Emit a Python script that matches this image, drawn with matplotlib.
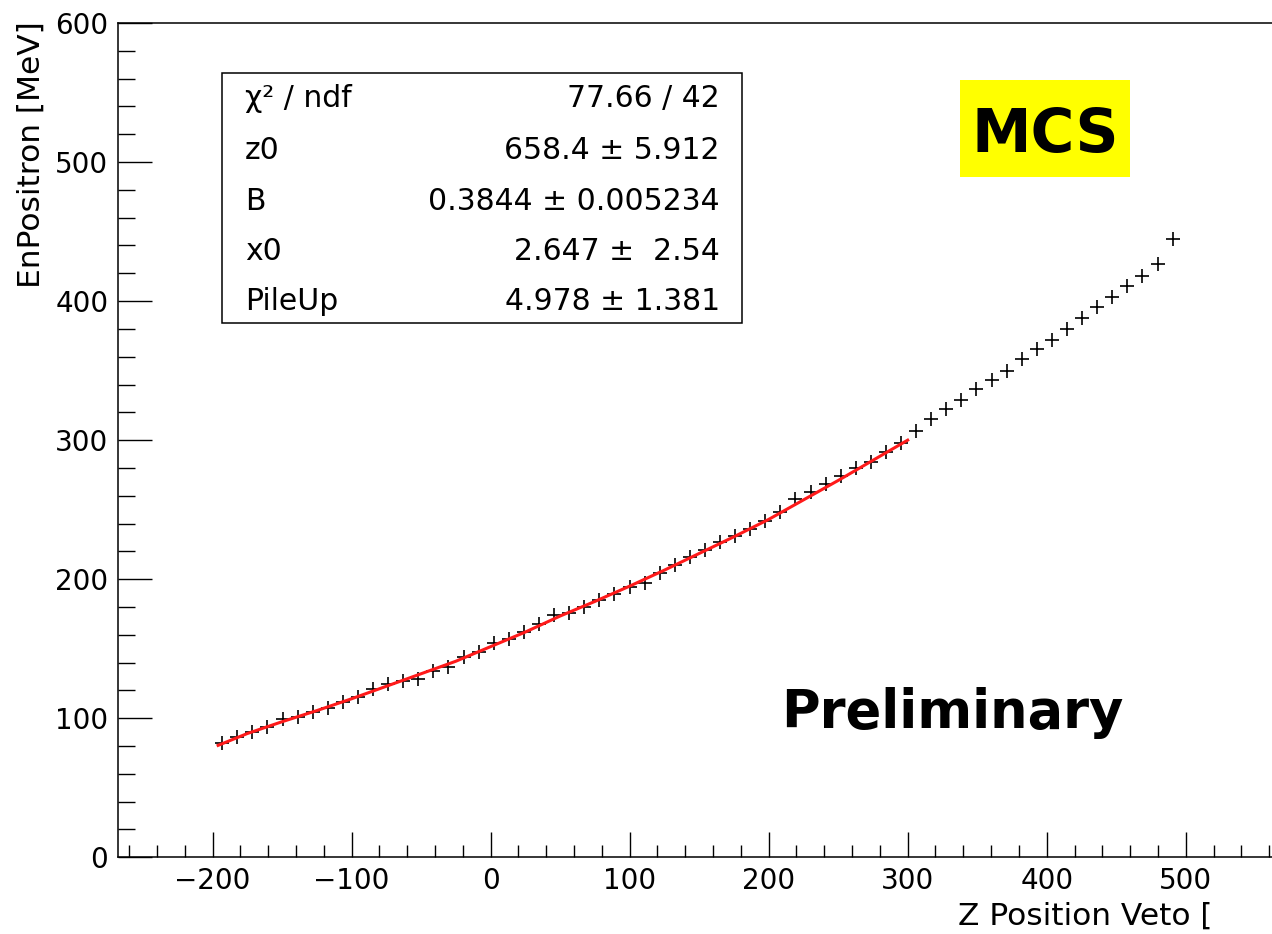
import numpy as np
import matplotlib
matplotlib.use("Agg")
import matplotlib.pyplot as plt
from matplotlib.ticker import MultipleLocator
from matplotlib.patches import Rectangle

plt.rcParams['font.family'] = ['DejaVu Sans']

# data points (profile)
zpos = [-193.0, -182.2, -171.3, -160.5, -149.6, -138.8, -127.9, -117.1, -106.2, -95.4,
        -84.5, -73.7, -62.8, -51.9, -41.1, -30.3, -19.4, -8.5, 2.3, 13.2,
        24.0, 34.9, 45.7, 56.6, 67.4, 78.3, 89.1, 100.0, 110.8, 121.7,
        132.5, 143.4, 154.2, 165.1, 175.9, 186.8, 197.6, 208.5, 219.3, 230.2,
        241.0, 251.9, 262.7, 273.6, 284.4, 295.3, 306.1, 317.0, 327.8, 338.7,
        349.5, 360.4, 371.2, 382.1, 392.9, 403.8, 414.6, 425.5, 436.3, 447.2,
        458.0, 468.9, 479.7, 490.6]
energy = [82.0, 86.8, 90.4, 94.0, 99.3, 100.7, 104.7, 107.2, 111.9, 115.5,
          120.9, 124.7, 126.6, 128.5, 134.2, 137.1, 143.9, 147.9, 154.0, 157.1,
          162.0, 167.5, 174.3, 176.0, 180.3, 185.1, 189.4, 194.7, 197.1, 204.7,
          210.3, 216.3, 221.1, 227.1, 231.2, 236.0, 241.9, 248.6, 257.6, 263.0,
          268.6, 274.3, 279.9, 284.6, 291.8, 297.8, 306.9, 314.9, 322.3, 329.0,
          336.7, 343.4, 350.0, 358.3, 365.5, 372.2, 379.9, 387.5, 395.7, 402.6,
          411.2, 418.2, 426.6, 444.6]

# fit curve
fit_z = [-196, -175, -150, -125, -100, -75, -50, -25, 0, 25, 50,
         75, 100, 125, 150, 175, 200, 225, 250, 275, 300]
fit_e = [80.5, 89.0, 97.5, 105.5, 114.0, 123.0, 132.0, 141.0, 151.5, 162.0, 173.5,
         184.0, 195.0, 206.5, 218.5, 230.5, 243.0, 257.0, 271.0, 285.5, 300.0]

stat_names = ['\u03c7\u00b2 / ndf', 'z0', 'B', 'x0', 'PileUp']
stat_values = ['77.66 / 42', '658.4 \u00b1 5.912', '0.3844 \u00b1 0.005234',
               '2.647 \u00b1  2.54', '4.978 \u00b1 1.381']

W, H = 1272, 934
fig = plt.figure(figsize=(W / 100, H / 100), dpi=100)
ax = fig.add_axes([118 / W, (H - 857.3) / H, (1290 - 118) / W, (857.3 - 23) / H])

ax.plot(zpos, energy, linestyle='none', marker='+', markersize=10,
        markeredgewidth=1.2, color='black', zorder=2)
ax.plot(fit_z, fit_e, color='#ff1a1a', linewidth=2.2, zorder=3)

ax.set_xlim(-268, 575)
ax.set_ylim(0, 600)
ax.xaxis.set_major_locator(MultipleLocator(100))
ax.xaxis.set_minor_locator(MultipleLocator(20))
ax.yaxis.set_major_locator(MultipleLocator(100))
ax.yaxis.set_minor_locator(MultipleLocator(20))
ax.tick_params(which='both', direction='in', top=False, right=False,
               labelsize=20, width=1.0, pad=7)
ax.tick_params(axis='y', which='major', length=24.5)
ax.tick_params(axis='y', which='minor', length=12.3)
ax.tick_params(axis='x', which='major', length=18)
ax.tick_params(axis='x', which='minor', length=9)
for s in ax.spines.values():
    s.set_linewidth(1.1)

# axis titles (x title is cut after the bracket in the original)
fig.text(958 / W, (H - 925) / H, 'Z Position Veto [', fontsize=22.5,
         ha='left', va='baseline')
fig.text(31 / W, (H - 21) / H, 'EnPositron [MeV]', fontsize=22.5,
         rotation=90, ha='center', va='top')

# stats box
box = Rectangle((222 / W, (H - 323) / H), (742 - 222) / W, (323 - 73) / H,
                transform=fig.transFigure, facecolor='white', edgecolor='black',
                linewidth=1.1, zorder=5)
fig.patches.append(box)
baselines = [107, 159, 210, 260, 310]
for name, val, yb in zip(stat_names, stat_values, baselines):
    fig.text(245 / W, (H - yb) / H, name, fontsize=21.5, ha='left', va='baseline', zorder=6)
    fig.text(720 / W, (H - yb) / H, val, fontsize=21.5, ha='right', va='baseline', zorder=6)

# MCS label
mcs = Rectangle((960 / W, (H - 177) / H), (1130 - 960) / W, (177 - 80) / H,
                transform=fig.transFigure, facecolor='#ffff00', edgecolor='none', zorder=5)
fig.patches.append(mcs)
fig.text(1045 / W, (H - 152) / H, 'MCS', fontsize=43, fontweight='bold',
         ha='center', va='baseline', zorder=6)

fig.text(781 / W, (H - 728) / H, 'Preliminary', fontsize=38, fontweight='bold',
         ha='left', va='baseline')

fig.savefig('out.png', dpi=100)
